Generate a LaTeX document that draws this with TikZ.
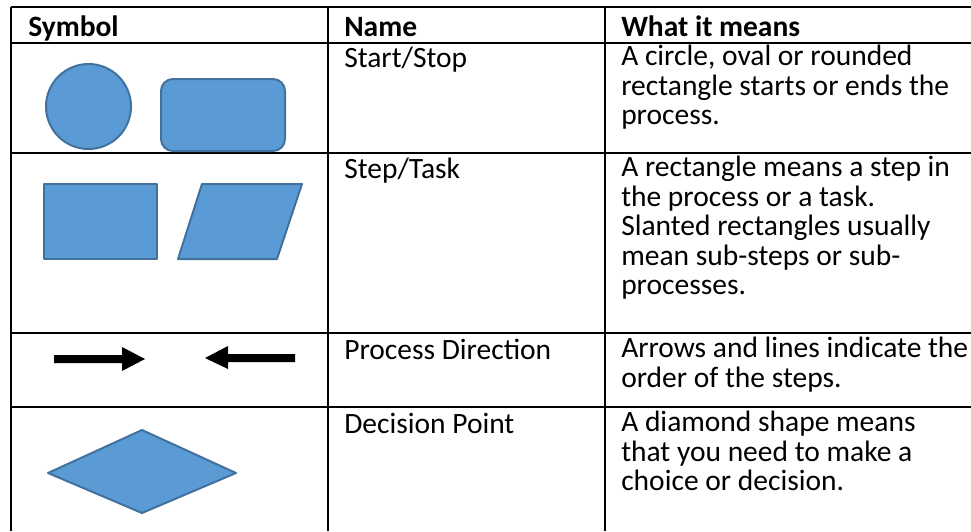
\documentclass[tikz,border=0pt]{standalone}
\usepackage{fontspec}
\setmainfont{Carlito}
\usepackage{tikz}
\definecolor{shapefill}{HTML}{5B9BD5}
\definecolor{shapeline}{HTML}{41719C}

\begin{document}
\begin{tikzpicture}[x=1pt,y=-1pt,line width=2.5pt,
  symbol/.style={fill=shapefill,draw=shapeline,line width=2pt,line join=round},
  cell/.style={anchor=north west,inner sep=0pt,align=left,
    font=\fontsize{29.5}{29.5}\selectfont,execute at begin node={\rule{0pt}{22pt}}},
  head/.style={cell,font=\fontsize{29.5}{29.5}\selectfont\bfseries}]

\useasboundingbox (0,0) rectangle (971,531);

% table rules
\draw (11,7) -- (971,7);
\draw (11,43) -- (971,43);
\draw (11,153) -- (971,153);
\draw (11,333) -- (971,333);
\draw (11,407) -- (971,407);
\draw (11,7) -- (11,531);
\draw (328,7) -- (328,531);
\draw (605,7) -- (605,531);

% header (baseline 35)
\node [head] (hsym)  at (27,13)  {Symbol};
\node [head] (hname) at (343,13) {Name};
\node [head] (hmean) at (620,13) {What it means};

% start / stop
\draw [symbol] (88.5,106.5) circle [radius=42.5];
\draw [symbol,rounded corners=12pt] (161,79) rectangle (285,151);
\node [cell] (nstart) at (343,44) {Start/Stop};
\node [cell] (mstart) at (620,44) {A circle, oval or rounded\\rectangle starts or ends the\\process.};

% step / task
\draw [symbol] (44,184) rectangle (157,259);
\draw [symbol] (202,184) -- (302,184) -- (277,259) -- (178,259) -- cycle;
\node [cell] (nstep) at (343,155) {Step/Task};
\node [cell] (mstep) at (620,155) {A rectangle means a step in\\the process or a task.\\Slanted rectangles usually\\mean sub-steps or sub-\\processes.};

% process direction
\fill (54,355) -- (122,355) -- (122,347) -- (145,359) -- (122,371) -- (122,363) -- (54,363) -- cycle;
\fill (295,354) -- (228,354) -- (228,346) -- (205,358) -- (228,369) -- (228,362) -- (295,362) -- cycle;
\node [cell] (ndir) at (343,336) {Process Direction};
\node [cell] (mdir) at (620,336) {Arrows and lines indicate the\\order of the steps.};

% decision point
\draw [symbol] (48,473) -- (142,430) -- (236,473) -- (142,513) -- cycle;
\node [cell] (ndec) at (343,410) {Decision Point};
\node [cell] (mdec) at (620,410) {A diamond shape means\\that you need to make a\\choice or decision.};

\end{tikzpicture}
\end{document}
